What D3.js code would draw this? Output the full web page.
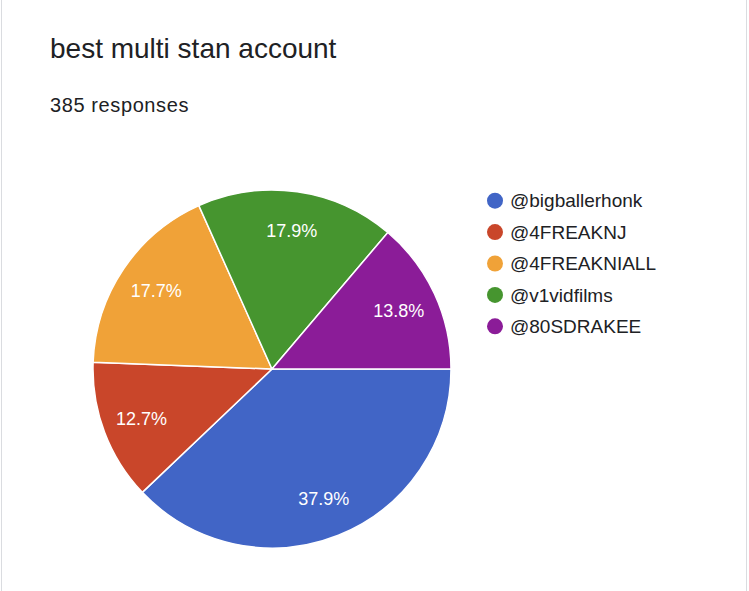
<!DOCTYPE html>
<html><head><meta charset="utf-8">
<script src="https://cdn.jsdelivr.net/npm/d3@7"></script>
<style>body{margin:0;background:#fff;font-family:"Liberation Sans",Arial,sans-serif}</style>
</head><body>
<svg id="c" width="749" height="591"></svg>
<script>
const categories = ["@bigballerhonk","@4FREAKNJ","@4FREAKNIALL","@v1vidfilms","@80SDRAKEE"];
const values = [37.9,12.7,17.7,17.9,13.8];
const labels = ["37.9%","12.7%","17.7%","17.9%","13.8%"];
const colors = ["#4165c6","#c9462a","#f0a238","#46952f","#8b1c98"];
const title = "best multi stan account";
const subtitle = "385 responses";

const svg = d3.select("#c");
svg.append("rect").attr("x",1.5).attr("y",-2).attr("width",745).attr("height",600)
  .attr("fill","none").attr("stroke","#dadce0");
svg.append("text").attr("x",50).attr("y",58).attr("font-size",28).attr("fill","#202124").text(title);
svg.append("text").attr("x",50).attr("y",112).attr("font-size",20).attr("fill","#202124").attr("letter-spacing",0.6).text(subtitle);

const cx=272, cy=369, r=179;
const pie = d3.pie().sort(null).startAngle(Math.PI/2).endAngle(Math.PI/2+2*Math.PI);
const arcs = pie(values);
const arc = d3.arc().innerRadius(0).outerRadius(r);
const la = d3.arc().innerRadius(r*0.78).outerRadius(r*0.78);
const g = svg.append("g").attr("transform",`translate(${cx},${cy})`);
g.selectAll("path").data(arcs).join("path").attr("d",arc)
  .attr("fill",(d,i)=>colors[i]).attr("stroke","#fff").attr("stroke-width",1.5);
g.selectAll("text").data(arcs).join("text")
  .attr("transform",d=>`translate(${la.centroid(d)})`)
  .attr("text-anchor","middle").attr("dy","0.35em").attr("fill","#fff").attr("font-size",18)
  .text((d,i)=>labels[i]);

const y = d3.scaleBand().domain(categories).range([185,342]);
const lg = svg.append("g");
lg.selectAll("circle").data(categories).join("circle")
  .attr("cx",495).attr("cy",d=>y(d)+y.bandwidth()/2).attr("r",8).attr("fill",(d,i)=>colors[i]);
lg.selectAll("text").data(categories).join("text")
  .attr("x",510).attr("y",d=>y(d)+y.bandwidth()/2).attr("dy","0.35em")
  .attr("font-size",19).attr("fill","#202124").text(d=>d);
</script>
</body></html>
